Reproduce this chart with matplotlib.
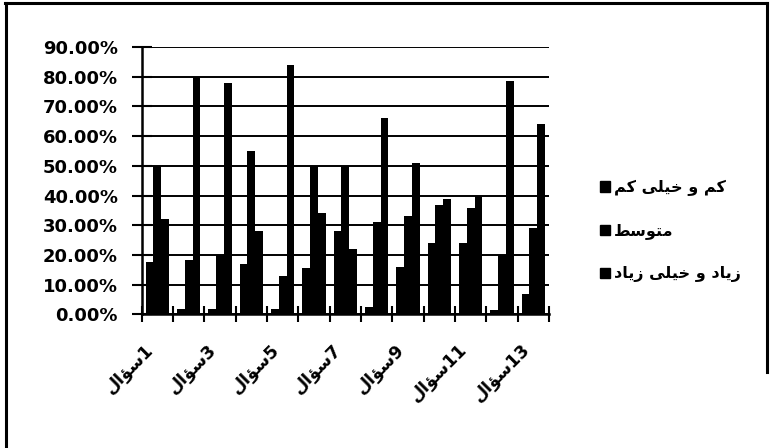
import matplotlib
matplotlib.use("Agg")
import matplotlib.pyplot as plt
from matplotlib.patches import Patch
from matplotlib.lines import Line2D
import numpy as np

# matplotlib does no Arabic shaping, so the Persian text is kept
# in presentation forms, already in visual (left-to-right) order
q_word = "\uFEDD\uFE8D\uFE86\uFEB3"  # سؤال
series_names = [
    "\uFEE2\uFB90 \uFEF0\uFEE0\uFEF4\uFEA7 \uFEED \uFEE2\uFB90",              # کم و خیلی کم
    "\uFEC2\uFEB3\uFEEE\uFE98\uFEE3",                                        # متوسط
    "\uFEA9\uFE8E\uFEF3\uFEAF \uFEF0\uFEE0\uFEF4\uFEA7 \uFEED \uFEA9\uFE8E\uFEF3\uFEAF",  # زیاد و خیلی زیاد
]

questions = list(range(1, 14))
low = [17.5, 2, 2, 17, 2, 15.5, 28, 2.5, 16, 24, 24, 1.5, 7]
mid = [50, 18.5, 20, 55, 13, 50, 50, 31, 33, 37, 36, 20, 29]
high = [32, 80, 78, 28, 84, 34, 22, 66, 51, 39, 40, 78.5, 64]

yticks = list(range(0, 91, 10))

W, H = 771, 448
fig = plt.figure(figsize=(W / 100, H / 100), dpi=100)
ax = fig.add_axes([0.1838, 0.298, 0.5283, 0.597])

x = np.arange(len(questions))
w = 0.25
for i, vals in enumerate([low, mid, high]):
    ax.bar(x + (i - 1) * w, vals, w, color="black", zorder=3)

ax.set_xlim(-0.5, len(questions) - 0.5)
ax.set_ylim(0, 90)

# y axis, percent labels
ax.set_yticks(yticks)
ax.set_yticklabels([f"{v:.2f}%" for v in yticks], fontsize=13, fontweight="bold")
ax.tick_params(axis="y", direction="inout", length=14, width=1.5, pad=10, colors="black")
ax.yaxis.grid(True, color="black", lw=1.4, zorder=1)

# category boundaries get the tick marks, odd questions get labels
ax.set_xticks(np.arange(-0.5, len(questions), 1))
ax.set_xticklabels([])
ax.tick_params(axis="x", which="major", direction="inout", length=12, width=1.5)
lab_pos = [q - 1 for q in questions if q % 2 == 1]
ax.set_xticks(lab_pos, minor=True)
ax.set_xticklabels([q_word + str(p + 1) for p in lab_pos], minor=True,
                   fontsize=12.5, fontweight="bold", rotation=45, ha="right")
ax.tick_params(axis="x", which="minor", length=0, pad=19)

for s in ["top", "right"]:
    ax.spines[s].set_visible(False)
for s in ["left", "bottom"]:
    ax.spines[s].set_linewidth(1.8)
    ax.spines[s].set_zorder(4)

handles = [Patch(facecolor="black", edgecolor="black") for _ in series_names]
fig.legend(handles, series_names, loc="upper left",
           bbox_to_anchor=(600 / W, 1 - 180 / H),
           frameon=False, handlelength=0.6, handleheight=0.6,
           handletextpad=0.25, labelspacing=1.7, borderpad=0, borderaxespad=0,
           prop={"weight": "bold", "size": 11.5})

# frame lines round the chart (left, top, right)
def px_line(x0, y0, x1, y1):
    fig.add_artist(Line2D([x0 / W, x1 / W], [1 - y0 / H, 1 - y1 / H],
                          transform=fig.transFigure, color="black", lw=2.2))

px_line(6, 3, 6, H)
px_line(5, 3, 767, 3)
px_line(767, 3, 767, 372)

fig.savefig("out.png", dpi=100)
